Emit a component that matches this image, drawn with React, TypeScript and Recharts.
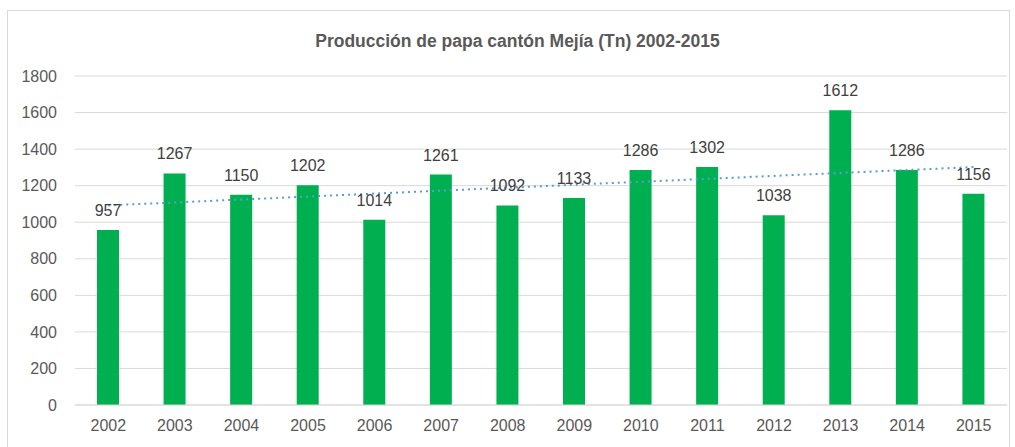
import React from 'react';
import {
  BarChart,
  Bar,
  XAxis,
  YAxis,
  CartesianGrid,
  LabelList,
  ReferenceLine,
} from 'recharts';

const years = ['2002', '2003', '2004', '2005', '2006', '2007', '2008', '2009', '2010', '2011', '2012', '2013', '2014', '2015'];
const production = [957, 1267, 1150, 1202, 1014, 1261, 1092, 1133, 1286, 1302, 1038, 1612, 1286, 1156];
const yTicks = [0, 200, 400, 600, 800, 1000, 1200, 1400, 1600, 1800];
// linear trend line, end points
const trendEnds = [1092, 1302];

const data = years.map((year, i) => ({ year, value: production[i] }));

const FONT = '"Liberation Sans", Arial, sans-serif';

const App: React.FC = () => {
  return (
    <div style={{ position: 'absolute', left: 0, top: 0, width: 1015, height: 447, background: '#fff', fontFamily: FONT }}>
      <div
        style={{
          position: 'absolute',
          left: 7,
          top: 10,
          width: 1001,
          height: 445,
          border: '1px solid #d9d9d9',
        }}
      />
      <div
        style={{
          position: 'absolute',
          top: 31,
          left: 0,
          width: 1035,
          textAlign: 'center',
          fontSize: 17.5,
          fontWeight: 'bold',
          color: '#595959',
        }}
      >
        Producción de papa cantón Mejía (Tn) 2002-2015
      </div>
      <div style={{ position: 'absolute', left: 0, top: 0 }}>
        <BarChart width={1015} height={447} data={data} margin={{ top: 76, right: 8, left: 8, bottom: 12 }}>
          <CartesianGrid vertical={false} stroke="#d9d9d9" />
          <XAxis
            dataKey="year"
            axisLine={{ stroke: '#d9d9d9' }}
            tickLine={false}
            tickSize={0}
            tickMargin={15}
            height={30}
            tick={{ fontSize: 16, fill: '#595959', fontFamily: FONT }}
          />
          <YAxis
            domain={[0, 1800]}
            ticks={yTicks}
            axisLine={false}
            tickLine={false}
            tickSize={0}
            tickMargin={18}
            width={67}
            tick={{ fontSize: 16, fill: '#595959', fontFamily: FONT }}
          />
          <Bar dataKey="value" fill="#00B050" barSize={22} isAnimationActive={false}>
            <LabelList dataKey="value" position="top" offset={14} fill="#404040" fontSize={16} fontFamily={FONT} />
          </Bar>
          <ReferenceLine
            segment={[
              { x: years[0], y: trendEnds[0] },
              { x: years[years.length - 1], y: trendEnds[1] },
            ]}
            stroke="#5B9BD5"
            strokeWidth={2}
            strokeDasharray="2 4"
          />
        </BarChart>
      </div>
    </div>
  );
};

export default App;
